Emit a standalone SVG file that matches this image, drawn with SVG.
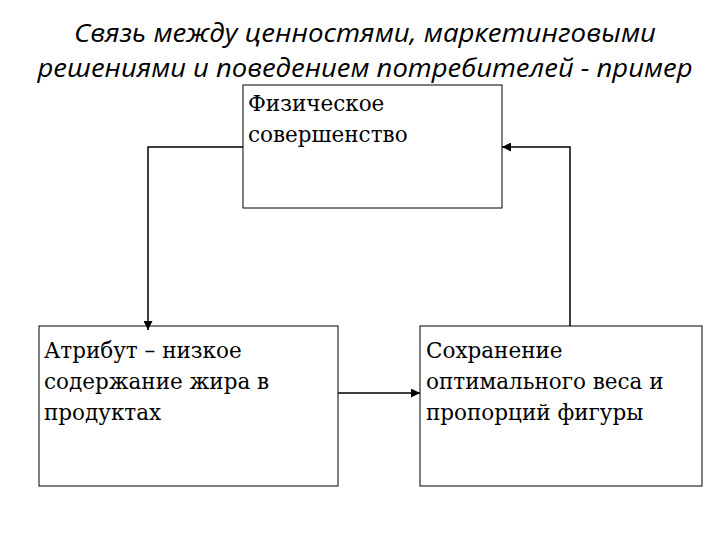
<svg xmlns="http://www.w3.org/2000/svg" width="720" height="540" viewBox="0 0 720 540">
<style>
.t{font-family:"Open Sans","Liberation Sans",sans-serif;font-style:italic;font-size:25px;fill:#000;text-anchor:middle}
.b{fill:#fff;stroke:#000;stroke-width:1}
.l{font-family:"DejaVu Serif","Liberation Serif",serif;font-size:21.5px;fill:#000}
.c{fill:none;stroke:#000;stroke-width:1.5}
</style>
<defs><marker id="a" viewBox="0 0 10 10" refX="10" refY="5" markerWidth="6" markerHeight="6" orient="auto"><path d="M0,0L10,5L0,10z" fill="#000"/></marker></defs>
<rect width="720" height="540" fill="#fff"/>
<text class="t" x="365" y="42" textLength="582" lengthAdjust="spacingAndGlyphs">Связь между ценностями, маркетинговыми</text>
<text class="t" x="365" y="77" textLength="655" lengthAdjust="spacingAndGlyphs">решениями и поведением потребителей - пример</text>
<g id="top"><rect class="b" x="243" y="85" width="259" height="123"/><text class="l" x="248" y="111">Физическое</text><text class="l" x="248" y="142">совершенство</text></g>
<g id="left"><rect class="b" x="39" y="326" width="299" height="160"/><text class="l" x="44" y="358">Атрибут – низкое</text><text class="l" x="44" y="389">содержание жира в</text><text class="l" x="44" y="420">продуктах</text></g>
<g id="right"><rect class="b" x="420" y="326" width="282" height="160"/><text class="l" x="426" y="358">Сохранение</text><text class="l" x="426" y="389">оптимального веса и</text><text class="l" x="426" y="420">пропорций фигуры</text></g>
<g id="connectors">
<path class="c" d="M243,147H148V330" marker-end="url(#a)"/>
<path class="c" d="M570,326V147H502" marker-end="url(#a)"/>
<path class="c" d="M338,393H420" marker-end="url(#a)"/>
</g>
</svg>
